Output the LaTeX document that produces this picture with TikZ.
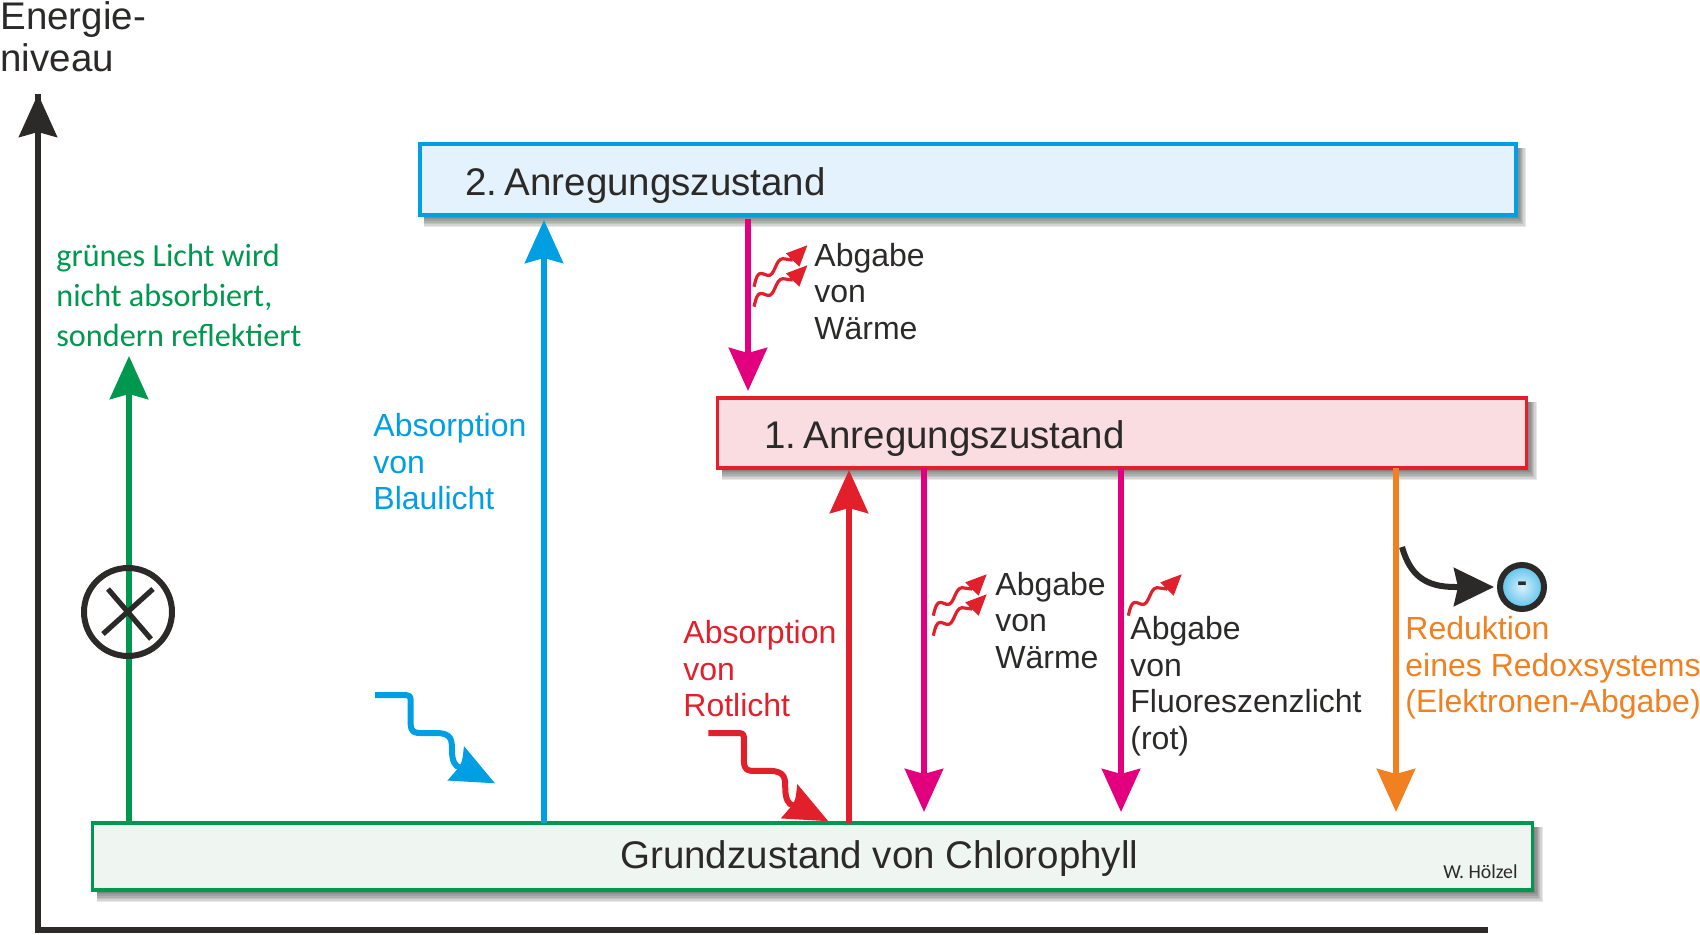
\documentclass[tikz,border=0pt]{standalone}
\usepackage{fontspec}
\setmainfont{Liberation Sans}
\newfontfamily\calib{Carlito}
\usetikzlibrary{arrows.meta}
\definecolor{cblue}{RGB}{0,159,227}
\definecolor{cmag}{RGB}{226,0,126}
\definecolor{cred}{RGB}{226,32,44}
\definecolor{cgreen}{RGB}{0,152,78}
\definecolor{corange}{RGB}{240,128,32}
\definecolor{cdark}{RGB}{43,42,41}
\definecolor{fblue}{RGB}{227,242,252}
\definecolor{fred}{RGB}{249,221,224}
\definecolor{fgreen}{RGB}{239,246,241}
\frenchspacing
\tikzset{
  statebox/.style={draw,line width=1.7pt,inner sep=0pt,outer sep=0pt,anchor=north west},
  statetext/.style={anchor=base west,inner sep=0pt,font=\fontsize{19.25pt}{21pt}\selectfont,text=cdark},
  lbl/.style={anchor=base west,inner sep=0pt,align=left,font=\fontsize{16pt}{18.2pt}\selectfont,text=cdark},
  greenlbl/.style={anchor=base west,inner sep=0pt,align=left,font=\calib\fontsize{16.1pt}{19.8pt}\selectfont,text=cgreen},
  up/.style={line width=3.2pt,-{Stealth[length=21.5pt,width=19pt,inset=2.5pt]}},
}
\newcommand{\softshadow}[4]{%
  \foreach \k in {1,...,8}{\fill[black,opacity=.09] (#1+5,#2+5) rectangle (#3+11-1.25*\k,#4+14-1.6*\k);}}
\newcommand{\lightsquiggle}[3]{%
  \begin{scope}[shift={(#1,#2)},x=.1722pt,y=-.1722pt]
    \draw[#3,line width=3pt,line join=round] (102,102) -- (180,102) .. controls (205,102) .. (205,125) -- (205,180)
      .. controls (205,212) and (215,212) .. (240,212) -- (280,212) .. controls (325,212) and (325,235) .. (325,260)
      .. controls (325,295) and (335,310) .. (348,312);
    \fill[#3] (360,250) -- (450,358) -- (312,350) -- (345,312) .. controls (355,295) .. cycle;
  \end{scope}}
\newcommand{\heatwave}[2]{%
  \begin{scope}[shift={(#1,#2)},x=.16667pt,y=-.16667pt]
    \draw[cred,line width=1.6pt,line join=round] (222,260) .. controls (228,235) and (232,218) .. (245,220)
      -- (262,226) .. controls (285,232) and (285,178) .. (308,176) -- (338,180);
    \fill[cred] (382,136) -- (358,200) -- (335,178) -- (318,160) -- cycle;
  \end{scope}}
\begin{document}
\begin{tikzpicture}[x=.5pt,y=-.5pt]
\useasboundingbox (0,0) rectangle (1700,935);
% shadows
\softshadow{419}{143}{1516}{215}
\softshadow{717}{397}{1527}{468}
\softshadow{92}{822}{1533}{890}
% boxes
\node[statebox,draw=cblue,fill=fblue,minimum width=548pt,minimum height=35.5pt] (z2) at (420,144) {};
\node[statebox,draw=cred,fill=fred,minimum width=404.5pt,minimum height=35pt] (z1) at (717.5,398) {};
\node[statebox,draw=cgreen,fill=fgreen,minimum width=720pt,minimum height=33.5pt] (g) at (92.5,823) {};
\node[statetext] (z2t) at (465,196) {2.\hspace{3.6pt}Anregungszustand};
\node[statetext] (z1t) at (764,448) {1.\hspace{3.6pt}Anregungszustand};
\node[statetext] (gt) at (620,868) {Grundzustand von Chlorophyll};
% axis
\coordinate (ax0) at (38,930);
\coordinate (axtop) at (38,94);
\coordinate (axr) at (1488,930);
\draw[cdark,line width=3pt] (axr) -- (ax0) -- (axtop);
\draw[cdark,line width=3pt,-{Stealth[length=21.5pt,width=19pt,inset=2.5pt]}] (38,200) -- (axtop);
% x positions
\coordinate (xgreen) at (129,0);
\coordinate (xblue) at (544,0);
\coordinate (xmag) at (748,0);
\coordinate (xred) at (849,0);
\coordinate (xm2) at (924,0);
\coordinate (xm3) at (1121,0);
\coordinate (xor) at (1396,0);
\coordinate (gtip) at (129,356);
% arrows
\draw[up,cgreen] (g.north -| xgreen) -- (gtip);
\draw[up,cblue] (g.north -| xblue) -- ([yshift=-2.5pt]z2.south -| xblue);
\draw[up,cmag,shorten <=2pt,shorten >=3.5pt] (z2.south -| xmag) -- (z1.north -| xmag);
\draw[up,cred,shorten >=1pt] (g.north -| xred) -- (z1.south -| xred);
\draw[up,cmag,shorten >=5.5pt] (z1.south -| xm2) -- (g.north -| xm2);
\draw[up,cmag,shorten >=5.5pt] (z1.south -| xm3) -- (g.north -| xm3);
\draw[up,corange,shorten >=5.5pt] (z1.south -| xor) -- (g.north -| xor);
% no-absorption mark
\node[draw=cdark,line width=3pt,circle,minimum size=44pt,inner sep=0pt,outer sep=0pt] (nomark) at (128,612) {};
\draw[cdark,line width=2.6pt] (108,589) -- (151,639) (153,589) -- (103,634);
% light squiggles
\lightsquiggle{340}{660}{cblue}
\lightsquiggle{673.3}{697.9}{cred}
% heat waves
\heatwave{680}{200}
\heatwave{680}{220}
\heatwave{859.3}{529}
\heatwave{859.3}{549}
\heatwave{1054.3}{529}
% electron
\node[circle,draw=cdark,line width=3pt,minimum size=22pt,inner sep=0pt,outer sep=0pt,inner color=white!85!cblue,outer color=cblue!65!white,font=\bfseries\fontsize{15pt}{15pt}\selectfont,text=cdark] (ball) at (1522,587) {-};
\coordinate (estart) at (1402,547);
\draw[cdark,line width=3pt,shorten >=3pt,-{Stealth[length=20pt,width=19pt,inset=2pt]}] (estart) .. controls (1410,575) and (1425,587) .. (1455,587) -- (ball.west);
% labels
\node[statetext,align=left] (ylab) at (0,71.5) {Energie-\\niveau};
\node[greenlbl] (gl) at (56,346) {grünes Licht wird\\nicht absorbiert,\\sondern reflektiert};
\node[lbl,text=cblue] (bl) at (373,509.6) {Absorption\\von\\Blaulicht};
\node[lbl,text=cred] (rl) at (683,716.6) {Absorption\\von\\Rotlicht};
\node[lbl] (h1) at (814,339) {Abgabe\\von\\Wärme};
\node[lbl] (h2) at (995,668) {Abgabe\\von\\Wärme};
\node[lbl] (fl) at (1130,749) {Abgabe\\von\\Fluoreszenzlicht\\(rot)};
\node[lbl,text=corange] (rd) at (1405,712.5) {Reduktion\\eines Redoxsystems\\(Elektronen-Abgabe)};
\node[anchor=base west,inner sep=0pt,font=\calib\fontsize{9.9pt}{11pt}\selectfont,text=cdark] (sig) at (1443,878) {W. Hölzel};
\end{tikzpicture}
\end{document}
